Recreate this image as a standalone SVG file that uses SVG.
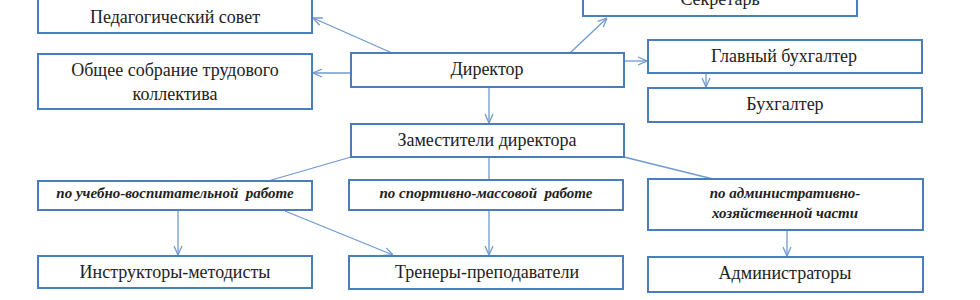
<svg xmlns="http://www.w3.org/2000/svg" width="980" height="300" viewBox="0 0 980 300">
<defs>
<style>
.box{fill:#fff;stroke:#4a7ebb;stroke-width:2}
.t{font-family:"Liberation Serif","DejaVu Serif",serif;font-size:18px;fill:#222;text-anchor:middle}
.i{font-family:"Liberation Serif","DejaVu Serif",serif;font-size:15px;font-style:italic;font-weight:bold;fill:#222;text-anchor:middle;white-space:pre}
.c{stroke:#6f9ad2;stroke-width:1.3;fill:none}
</style>
<marker id="a" viewBox="0 0 10 10" refX="10" refY="5" markerWidth="10" markerHeight="10" markerUnits="userSpaceOnUse" orient="auto">
<path d="M1,1 L10,5 L1,9" fill="none" stroke="#6f9ad2" stroke-width="1.3"/>
</marker>
</defs>
<rect width="980" height="300" fill="#fff"/>
<g id="connectors">
<line class="c" x1="392" y1="53" x2="313" y2="18" marker-end="url(#a)"/>
<line class="c" x1="351" y1="73" x2="313" y2="73" marker-end="url(#a)"/>
<line class="c" x1="570" y1="53" x2="607" y2="18" marker-end="url(#a)"/>
<line class="c" x1="624" y1="61" x2="647" y2="61" marker-end="url(#a)"/>
<line class="c" x1="706" y1="73" x2="706" y2="87" marker-end="url(#a)"/>
<line class="c" x1="489" y1="87" x2="489" y2="123" marker-end="url(#a)"/>
<line class="c" x1="351" y1="157" x2="268" y2="181"/>
<line class="c" x1="489" y1="157" x2="489" y2="180"/>
<line class="c" x1="624" y1="157" x2="713" y2="179"/>
<line class="c" x1="178" y1="210" x2="178" y2="255" marker-end="url(#a)"/>
<line class="c" x1="285" y1="211" x2="393" y2="255" marker-end="url(#a)"/>
<line class="c" x1="489" y1="210" x2="489" y2="255" marker-end="url(#a)"/>
<line class="c" x1="787" y1="230" x2="787" y2="256" marker-end="url(#a)"/>
</g>
<g id="ped"><rect class="box" x="38" y="-4" width="274" height="37"/><text class="t" x="175" y="23">Педагогический совет</text></g>
<g id="obsh"><rect class="box" x="38" y="54" width="274" height="55"/><text class="t" x="175" y="76">Общее собрание трудового</text><text class="t" x="175" y="100">коллектива</text></g>
<g id="dir"><rect class="box" x="351" y="53" width="273" height="34"/><text class="t" x="487" y="75">Директор</text></g>
<g id="sekr"><rect class="box" x="583" y="-20" width="274" height="36"/><text class="t" x="720" y="5">Секретарь</text></g>
<g id="glbuh"><rect class="box" x="648" y="40" width="274" height="33"/><text class="t" x="784" y="62">Главный бухгалтер</text></g>
<g id="buh"><rect class="box" x="648" y="88" width="274" height="34"/><text class="t" x="785" y="110">Бухгалтер</text></g>
<g id="zam"><rect class="box" x="351" y="124" width="273" height="33"/><text class="t" x="487" y="146">Заместители директора</text></g>
<g id="uv"><rect class="box" x="38" y="181" width="274" height="29"/><text class="i" x="175" y="198">по учебно-воспитательной  работе</text></g>
<g id="sm"><rect class="box" x="349" y="180" width="274" height="30"/><text class="i" x="486" y="198">по спортивно-массовой  работе</text></g>
<g id="ah"><rect class="box" x="648" y="179" width="275" height="51"/><text class="i" x="785" y="198">по административно-</text><text class="i" x="785" y="218">хозяйственной части</text></g>
<g id="instr"><rect class="box" x="38" y="256" width="274" height="32"/><text class="t" x="175" y="278">Инструкторы-методисты</text></g>
<g id="tren"><rect class="box" x="349" y="256" width="274" height="33"/><text class="t" x="487" y="278">Тренеры-преподаватели</text></g>
<g id="adm"><rect class="box" x="648" y="257" width="275" height="35"/><text class="t" x="785" y="279">Администраторы</text></g>
</svg>
